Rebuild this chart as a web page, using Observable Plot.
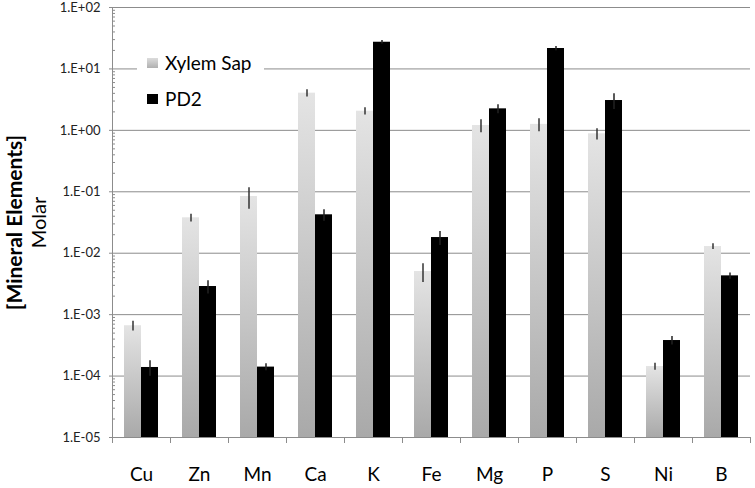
<!DOCTYPE html>
<html>
<head>
<meta charset="utf-8">
<script src="https://cdn.jsdelivr.net/npm/d3@7"></script>
<script src="https://cdn.jsdelivr.net/npm/@observablehq/plot@0.6"></script>
<style>
  html, body { margin: 0; padding: 0; background: #fff; }
  #wrap { position: relative; width: 755px; height: 488px; font-family: Lato, "Liberation Sans", sans-serif; }
  #legend { position: absolute; left: 137px; top: 44px; width: 127px; height: 72px; background: #fff; }
  .item { position: absolute; left: 10px; display: flex; align-items: center; font-size: 19px; color: #000; }
  .sw { width: 11px; height: 10px; margin-right: 7px; }
</style>
</head>
<body>
<div id="wrap"></div>
<script>
const elements = ["Cu", "Zn", "Mn", "Ca", "K", "Fe", "Mg", "P", "S", "Ni", "B"];
const xylemSap = [6.6e-4, 0.0377, 0.0838, 4.03, 2.05, 5.04e-3, 1.20, 1.25, 0.879, 1.43e-4, 0.01285];
const xylemErr = [1.2e-4, 0.0055, 0.032, 0.54, 0.28, 1.7e-3, 0.29, 0.30, 0.18, 0.19e-4, 0.0014];
const pd2 = [1.38e-4, 2.87e-3, 1.40e-4, 0.0422, 27.2, 0.0180, 2.24, 21.5, 3.06, 3.79e-4, 4.28e-3];
const pd2Err = [0.39e-4, 0.7e-3, 0.18e-4, 0.009, 1.8, 0.0046, 0.37, 1.7, 0.88, 0.6e-4, 0.5e-3];
const yTicks = [1e-5, 1e-4, 1e-3, 1e-2, 1e-1, 1e0, 1e1, 1e2];
const yTickLabels = ["1.E-05", "1.E-04", "1.E-03", "1.E-02", "1.E-01", "1.E+00", "1.E+01", "1.E+02"];
const seriesNames = ["Xylem Sap", "PD2"];
const yTitle = "[Mineral Elements]";
const yUnit = "Molar";

const minorTicks = [];
for (let k = 0; k < yTicks.length - 1; k++) for (let m = 2; m <= 9; m++) minorTicks.push(yTicks[k] * m);

const xylemRows = elements.map((el, i) => ({el, v: xylemSap[i], e: xylemErr[i]}));
const pd2Rows = elements.map((el, i) => ({el, v: pd2[i], e: pd2Err[i]}));

const W = 755, H = 488, ML = 112, MR = 5, MT = 7, MB = 51;
const band = (W - ML - MR) / elements.length;
const half = band / 2;
const gridColor = "#8c8c8c";

const defs = () => {
  const d = d3.create("svg:defs");
  const g = d.append("linearGradient").attr("id", "grayGrad").attr("x1", 0).attr("y1", 0).attr("x2", 0).attr("y2", 1);
  g.append("stop").attr("offset", "0%").attr("stop-color", "#e4e4e4");
  g.append("stop").attr("offset", "100%").attr("stop-color", "#a9a9a9");
  return d.node();
};

const chart = Plot.plot({
  width: W, height: H,
  marginLeft: ML, marginRight: MR, marginTop: MT, marginBottom: MB,
  style: {fontFamily: "Lato, 'Liberation Sans', sans-serif", background: "#fff"},
  x: {type: "band", domain: elements, padding: 0},
  y: {type: "log", domain: [1e-5, 1e2]},
  marks: [
    defs,
    Plot.gridY({ticks: yTicks, stroke: gridColor, strokeOpacity: 1}),
    Plot.tickY(minorTicks, {y: d => d, x: () => elements[0], insetRight: band - 3, stroke: gridColor}),
    Plot.tickX([elements[0]], {x: d => d, dx: -half, stroke: gridColor}),
    Plot.barY(xylemRows, {x: "el", y1: 1e-5, y2: "v", fill: "url(#grayGrad)", insetLeft: 12, insetRight: 29}),
    Plot.barY(pd2Rows, {x: "el", y1: 1e-5, y2: "v", fill: "#000", insetLeft: 29, insetRight: 12}),
    Plot.ruleX(xylemRows, {x: "el", y1: d => d.v - d.e, y2: d => d.v + d.e, dx: -8.5, stroke: "#333", strokeWidth: 1.5}),
    Plot.ruleX(pd2Rows, {x: "el", y1: d => d.v - d.e, y2: d => d.v + d.e, dx: 8.5, stroke: "#222", strokeWidth: 1.5}),
    Plot.axisY({ticks: yTicks, tickFormat: d => yTickLabels[yTicks.indexOf(d)], tickSize: 3, tickPadding: 9, fontSize: 13, stroke: gridColor, color: "#222", label: null}),
    Plot.axisX({tickSize: 0, tickPadding: 30, fontSize: 19, color: "#000", label: null}),
    Plot.axisX({tickSize: 6, tickFormat: () => "", dx: -half, stroke: gridColor, label: null}),
    Plot.axisX({ticks: [elements[elements.length - 1]], tickSize: 6, tickFormat: () => "", dx: half, stroke: gridColor, label: null}),
    Plot.text([yTitle], {text: d => d, frameAnchor: "left", textAnchor: "middle", rotate: -90, dx: 14.5 - ML, fontWeight: "bold", fontSize: 21, fill: "#000"}),
    Plot.text([yUnit], {text: d => d, frameAnchor: "left", textAnchor: "middle", rotate: -90, dx: 39.5 - ML, fontSize: 20, fill: "#000"})
  ]
});

const wrap = document.getElementById("wrap");
wrap.appendChild(chart);

const legend = document.createElement("div");
legend.id = "legend";
const sw = [
  "background: linear-gradient(#dcdcdc, #b0b0b0);",
  "background: #000;"
];
seriesNames.forEach((name, i) => {
  const it = document.createElement("div");
  it.className = "item";
  it.style.top = (i === 0 ? 7 : 43) + "px";
  it.innerHTML = `<div class="sw" style="${sw[i]}"></div><span>${name}</span>`;
  legend.appendChild(it);
});
wrap.appendChild(legend);
</script>
</body>
</html>
